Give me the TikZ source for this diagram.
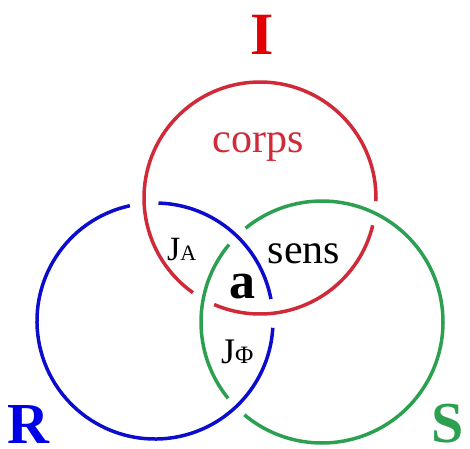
\documentclass[tikz,border=0pt]{standalone}
\usepackage{fontspec}
\setmainfont{Liberation Serif}
\definecolor{ringred}{RGB}{208,42,56}
\definecolor{ringblue}{RGB}{12,12,205}
\definecolor{ringgreen}{RGB}{44,160,80}
\definecolor{letterred}{RGB}{226,0,0}
\definecolor{letterblue}{RGB}{0,0,230}
\definecolor{lettergreen}{RGB}{44,160,80}
\tikzset{
  ring/.style={line width=3.5pt},
  lbl/.style={inner sep=0pt, anchor=base},
  big/.style={lbl, font=\fontsize{58}{60}\selectfont\bfseries},
  mid/.style={lbl, font=\fontsize{42}{44}\selectfont},
}
\begin{document}
\begin{tikzpicture}[x=1pt,y=1pt]
\useasboundingbox (0,0) rectangle (470,448);
% centres
\coordinate (cR) at (155,127);
\coordinate (cI) at (260,250);
\coordinate (cS) at (322,126);
% blue ring R (under red)
\draw[ring, ringblue] (cR) ++(10.7:118) arc[start angle=10.7, end angle=88.3, radius=118];
\draw[ring, ringblue] (cR) ++(102.3:118) arc[start angle=102.3, end angle=356.7, radius=118];
% green ring S (under blue)
\draw[ring, ringgreen] (cS) ++(140.2:121) arc[start angle=140.2, end angle=219.1, radius=121];
\draw[ring, ringgreen] (cS) ++(230.1:121) arc[start angle=230.1, end angle=489.2, radius=121];
% red ring I (under green)
\draw[ring, ringred] (cI) ++(246.7:116) arc[start angle=246.7, end angle=346.4, radius=116];
\draw[ring, ringred] (cI) ++(358.4:116) arc[start angle=358.4, end angle=594.7, radius=116];
% labels
\node[big, letterred, font=\fontsize{60}{62}\selectfont\bfseries] (lI) at (262,393) {I};
\node[big, letterblue, anchor=base west] (lR) at (7,5) {R};
\node[big, lettergreen, anchor=base west] (lS) at (431,6) {S};
\node[mid, ringred] (corps) at (258,296) {corps};
\node[mid] (sens) at (304,185) {sens};
\node[lbl, anchor=base west] (JA) at (167,188) {\fontsize{34}{36}\selectfont J\fontsize{22}{24}\selectfont A};
\node[lbl, anchor=base west] (JP) at (221,85) {\fontsize{36}{38}\selectfont J\fontsize{25}{27}\selectfont Φ};
\node[lbl, font=\fontsize{52}{54}\selectfont\bfseries] (a) at (242,150) {a};
\end{tikzpicture}
\end{document}
